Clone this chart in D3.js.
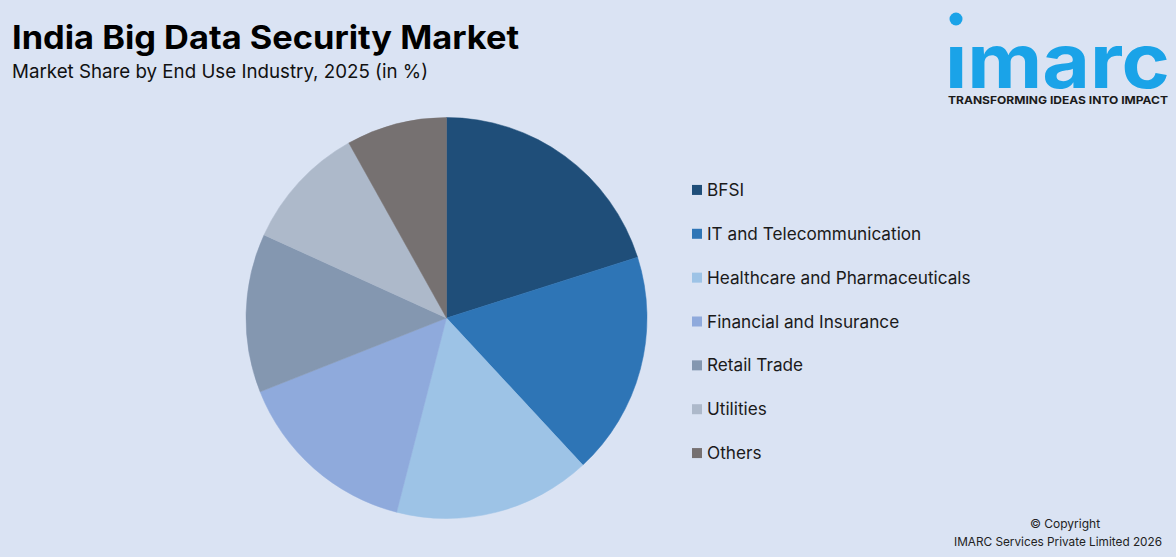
<!DOCTYPE html>
<html>
<head>
<meta charset="utf-8">
<script src="https://cdn.jsdelivr.net/npm/d3@7"></script>
<style>
  body { margin: 0; background: #dae3f3; }
  svg { display: block; font-family: Inter, Roboto, "Noto Sans", sans-serif; }
</style>
</head>
<body>
<div id="chart"></div>
<script>
// end use industries, share in %
var industries = ['BFSI', 'IT and Telecommunication', 'Healthcare and Pharmaceuticals',
  'Financial and Insurance', 'Retail Trade', 'Utilities', 'Others'];
var shares = [20.1, 18.0, 15.9, 15.0, 12.8, 10.1, 8.1];
var colours = ['#1f4e79', '#2e75b6', '#9dc3e6', '#8faadc', '#8497b0', '#adb9ca', '#767171'];

var width = 1176, height = 557;

var svg = d3.select('#chart').append('svg')
  .attr('width', width)
  .attr('height', height);

svg.append('rect').attr('width', width).attr('height', height).attr('fill', '#dae3f3');

svg.append('text')
  .attr('x', 12).attr('y', 49)
  .attr('font-size', 32).attr('font-weight', 700).attr('fill', '#000')
  .attr('textLength', 507).attr('lengthAdjust', 'spacingAndGlyphs')
  .text('India Big Data Security Market');

svg.append('text')
  .attr('x', 12).attr('y', 78)
  .attr('font-size', 19).attr('fill', '#111')
  .attr('textLength', 416).attr('lengthAdjust', 'spacingAndGlyphs')
  .text('Market Share by End Use Industry, 2025 (in %)');

// pie
var data = industries.map(function(d, i) { return { name: d, value: shares[i], colour: colours[i] }; });

var pie = d3.pie().sort(null).value(function(d) { return d.value; });
var arc = d3.arc().innerRadius(0).outerRadius(200.5);

var g = svg.append('g').attr('transform', 'translate(446.5,318)');

g.selectAll('path')
  .data(pie(data))
  .enter().append('path')
  .attr('d', arc)
  .attr('fill', function(d) { return d.data.colour; })
  .attr('stroke', function(d) { return d.data.colour; })
  .attr('stroke-width', 0.5);

// legend
var y = d3.scaleBand().domain(industries).range([168, 475]);

var legend = svg.append('g').selectAll('g')
  .data(data)
  .enter().append('g')
  .attr('transform', function(d) { return 'translate(692,' + (y(d.name) + y.bandwidth() / 2) + ')'; });

legend.append('rect')
  .attr('x', 0).attr('y', -5)
  .attr('width', 10).attr('height', 10)
  .attr('fill', function(d) { return d.colour; });

legend.append('text')
  .attr('x', 15).attr('dy', '0.35em')
  .attr('font-size', 17.2).attr('fill', '#1a1a1a')
  .text(function(d) { return d.name; });

// logo
var logo = svg.append('g');
logo.append('circle').attr('cx', 956).attr('cy', 19).attr('r', 6.5).attr('fill', '#1aa3e8');
logo.append('text')
  .attr('x', 945).attr('y', 88)
  .attr('font-size', 76).attr('font-weight', 700).attr('fill', '#1aa3e8')
  .attr('textLength', 225).attr('lengthAdjust', 'spacingAndGlyphs')
  .text('\u0131marc');
logo.append('text')
  .attr('x', 948).attr('y', 104)
  .attr('font-size', 11).attr('font-weight', 700).attr('fill', '#1a1a1a')
  .attr('textLength', 220).attr('lengthAdjust', 'spacingAndGlyphs')
  .text('TRANSFORMING IDEAS INTO IMPACT');

// copyright
svg.append('text')
  .attr('x', 1065).attr('y', 528).attr('text-anchor', 'middle')
  .attr('font-size', 12).attr('fill', '#222')
  .text('\u00a9 Copyright');
svg.append('text')
  .attr('x', 1058).attr('y', 546).attr('text-anchor', 'middle')
  .attr('font-size', 12).attr('fill', '#222')
  .attr('textLength', 208).attr('lengthAdjust', 'spacingAndGlyphs')
  .text('IMARC Services Private Limited 2026');
</script>
</body>
</html>
